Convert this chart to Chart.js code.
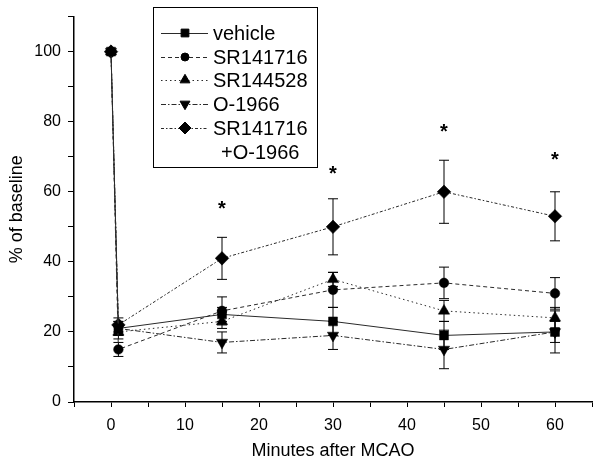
<!DOCTYPE html>
<html><head><meta charset="utf-8">
<script src="https://cdn.jsdelivr.net/npm/chart.js@4"></script>
<style>html,body{margin:0;padding:0;background:#fff}</style>
</head><body>
<canvas id="c" width="601" height="464" style="width:601px;height:464px;display:block"></canvas>
<script>
// ---- data ----
const times = [0, 1, 15, 30, 45, 60];
const seriesNames = ['vehicle', 'SR141716', 'SR144528', 'O-1966', 'SR141716 +O-1966'];
const vehicle      = [100, 21, 25, 23, 19, 20];
const vehicleErr   = [0, 2, 2, 4, 4, 3];
const sr141716     = [100, 15, 26, 32, 34, 31];
const sr141716Err  = [0, 2, 4, 5, 4.5, 4.5];
const sr144528     = [100, 20, 23, 35, 26, 24];
const sr144528Err  = [0, 2, 2, 2, 3, 3];
const o1966        = [100, 21, 17, 19, 15, 20];
const o1966Err     = [0, 2, 3, 4, 5.5, 6];
const combo        = [100, 22, 41, 50, 60, 53];
const comboErr     = [0, 2, 6, 8, 9, 7];
const starTimes    = [15, 30, 45, 60];
const starValues   = [55, 65, 77, 69];
const xTitle = 'Minutes after MCAO';
const yTitle = '% of baseline';

const FONT = "'Liberation Sans', Arial, sans-serif";
const values = [vehicle, sr141716, sr144528, o1966, combo];
const errors = [vehicleErr, sr141716Err, sr144528Err, o1966Err, comboErr];
const styles = [
  {pointStyle: 'rect', radius: 6.3, rotation: 0, dash: []},
  {pointStyle: 'circle', radius: 4.8, rotation: 0, dash: [4, 3]},
  {pointStyle: 'triangle', radius: 6.5, rotation: 0, dash: [1.5, 3]},
  {pointStyle: 'triangle', radius: 6.5, rotation: 180, dash: [5, 2, 1.5, 2]},
  {pointStyle: 'rectRot', radius: 6.8, rotation: 0, dash: [3, 2, 1.5, 2]}
];

const datasets = values.map((v, i) => ({
  label: seriesNames[i],
  data: times.map((t, j) => ({x: t, y: v[j]})),
  errs: errors[i],
  borderColor: '#2a2a2a',
  borderWidth: 1,
  borderDash: styles[i].dash,
  pointStyle: styles[i].pointStyle,
  pointRadius: styles[i].radius,
  pointRotation: styles[i].rotation,
  pointBackgroundColor: '#000',
  pointBorderColor: '#000',
  pointBorderWidth: 0.5,
  tension: 0,
  fill: false
}));

const errorBars = {
  id: 'errorBars',
  beforeDatasetsDraw(chart) {
    const ctx = chart.ctx, xs = chart.scales.x, ys = chart.scales.y;
    ctx.save();
    ctx.strokeStyle = '#000';
    ctx.lineWidth = 1;
    ctx.setLineDash([]);
    chart.data.datasets.forEach(ds => {
      ds.data.forEach((p, j) => {
        const e = ds.errs[j];
        if (!e) return;
        const px = xs.getPixelForValue(p.x);
        const y1 = ys.getPixelForValue(p.y + e), y2 = ys.getPixelForValue(p.y - e);
        ctx.beginPath();
        ctx.moveTo(px, y1); ctx.lineTo(px, y2);
        ctx.moveTo(px - 5, y1); ctx.lineTo(px + 5, y1);
        ctx.moveTo(px - 5, y2); ctx.lineTo(px + 5, y2);
        ctx.stroke();
      });
    });
    ctx.restore();
  }
};

const stars = {
  id: 'stars',
  afterDatasetsDraw(chart) {
    const ctx = chart.ctx, xs = chart.scales.x, ys = chart.scales.y;
    ctx.save();
    ctx.fillStyle = '#000';
    ctx.font = 'bold 20px ' + FONT;
    ctx.textAlign = 'center';
    ctx.textBaseline = 'alphabetic';
    starTimes.forEach((t, i) => {
      ctx.fillText('*', xs.getPixelForValue(t), ys.getPixelForValue(starValues[i]) + 6);
    });
    ctx.restore();
  }
};

const boxLegend = {
  id: 'boxLegend',
  afterDraw(chart) {
    const ctx = chart.ctx;
    ctx.save();
    ctx.strokeStyle = '#000';
    ctx.lineWidth = 1;
    ctx.setLineDash([]);
    ctx.strokeRect(153.5, 7.5, 164, 160);
    ctx.font = '20px ' + FONT;
    ctx.textBaseline = 'middle';
    ctx.textAlign = 'left';
    const rows = [33, 57, 80, 104, 128];
    chart.data.datasets.forEach((ds, i) => {
      const y = rows[i];
      ctx.strokeStyle = '#2a2a2a';
      ctx.lineWidth = 1;
      ctx.setLineDash(styles[i].dash);
      ctx.beginPath(); ctx.moveTo(161, y + 0.5); ctx.lineTo(208, y + 0.5); ctx.stroke();
      ctx.setLineDash([]);
      ctx.fillStyle = '#000';
      ctx.strokeStyle = '#000';
      Chart.helpers.drawPoint(ctx, {pointStyle: styles[i].pointStyle, radius: styles[i].radius - 0.8,
        rotation: styles[i].rotation, borderWidth: 0.5}, 185, y);
      ctx.fillStyle = '#000';
      const parts = ds.label.split(' ');
      ctx.fillText(parts[0], 213, y + 1);
      if (parts[1]) ctx.fillText(parts[1], 221, y + 25);
    });
    ctx.restore();
  }
};

new Chart(document.getElementById('c'), {
  type: 'line',
  data: {datasets},
  options: {
    responsive: false,
    animation: false,
    devicePixelRatio: 1,
    layout: {padding: {left: 2, right: 8, top: 9, bottom: 0}},
    plugins: {legend: {display: false}, tooltip: {enabled: false}},
    scales: {
      x: {
        type: 'linear', min: -5, max: 65,
        afterFit(s) { s.height = 62; },
        border: {color: '#000', width: 1.5},
        grid: {drawOnChartArea: false, drawTicks: true, tickLength: 5, color: '#000', lineWidth: 1},
        ticks: {stepSize: 5, autoSkip: false, maxRotation: 0, padding: 9, color: '#000',
          font: {family: FONT, size: 16},
          callback: v => (v % 10 === 0 ? String(v) : '')},
        title: {display: true, text: xTitle, color: '#000', font: {family: FONT, size: 18}, padding: {top: 2, bottom: 2}}
      },
      y: {
        type: 'linear', min: 0, max: 110,
        afterFit(s) { s.width = 72; },
        border: {color: '#000', width: 1.5},
        grid: {drawOnChartArea: false, drawTicks: true, tickLength: 6, color: '#000', lineWidth: 1},
        ticks: {stepSize: 10, autoSkip: false, padding: 7, color: '#000',
          font: {family: FONT, size: 16},
          callback: v => (v % 20 === 0 ? String(v) : '')},
        title: {display: true, text: yTitle, color: '#000', font: {family: FONT, size: 18}, padding: {top: 4, bottom: 4}}
      }
    }
  },
  plugins: [errorBars, stars, boxLegend]
});
</script>
</body></html>
